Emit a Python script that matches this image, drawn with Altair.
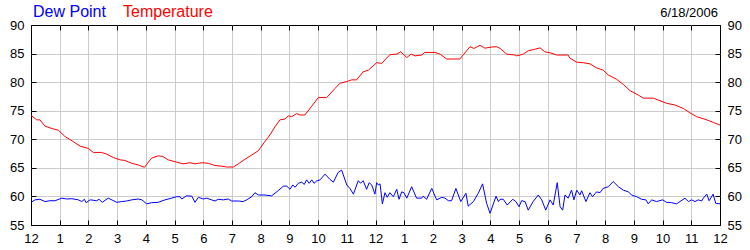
import altair as alt
import pandas as pd

# ---------------- data ----------------
temp_hours = [0.00, 0.20, 0.31, 0.49, 0.72, 0.95, 1.18, 1.47, 1.71, 2.00, 2.17, 2.46, 2.64, 2.87,
              3.10, 3.27, 3.51, 3.74, 3.95, 4.20, 4.43, 4.59, 4.78, 5.07, 5.30, 5.54, 5.71, 5.95,
              6.18, 6.41, 6.64, 6.82, 7.05, 7.22, 7.45, 7.69, 7.92, 8.06, 8.32, 8.50, 8.67, 8.85,
              8.96, 9.08, 9.25, 9.37, 9.54, 9.78, 10.01, 10.30, 10.59, 10.76, 11.00, 11.17, 11.34,
              11.57, 11.75, 12.04, 12.22, 12.50, 12.74, 12.88, 13.09, 13.24, 13.38, 13.61, 13.72,
              14.07, 14.25, 14.48, 14.94, 15.29, 15.43, 15.64, 15.81, 16.05, 16.22, 16.34, 16.57,
              16.86, 16.92, 17.15, 17.32, 17.55, 17.73, 17.90, 18.08, 18.31, 18.71, 18.77, 19.01,
              19.24, 19.47, 19.70, 19.93, 20.11, 20.40, 20.63, 20.87, 21.15, 21.33, 21.68, 21.91,
              22.14, 22.43, 22.72, 22.95, 23.19, 23.54, 23.77, 24.00]
temp_values = [74.2, 73.4, 73.4, 72.3, 71.9, 71.6, 70.5, 69.6, 68.8, 68.4, 67.7, 67.7, 67.4, 66.8,
               66.4, 66.3, 65.8, 65.5, 65.1, 66.7, 67.1, 67.0, 66.4, 66.0, 65.7, 65.9, 65.7, 65.9,
               65.8, 65.4, 65.3, 65.15, 65.15, 65.7, 66.5, 67.25, 68.0, 69.0, 70.75, 72.2, 73.4, 73.55,
               74.1, 73.95, 74.5, 74.25, 74.25, 75.8, 77.3, 77.3, 78.9, 79.8, 80.1, 80.4, 80.4,
               81.8, 82.1, 83.4, 83.3, 84.8, 84.9, 85.3, 84.3, 84.9, 84.6, 84.75, 85.2,
               85.2, 84.9, 84.05, 84.05, 86.2, 85.9, 86.45, 85.95, 86.15, 86.2, 85.9, 84.9,
               84.75, 84.6, 84.9, 85.5, 85.75, 86.0, 85.3, 85.15, 84.75, 84.75, 84.2, 83.5,
               83.4, 83.2, 82.5, 82.1, 81.25, 80.5, 79.6, 78.5, 77.75, 77.2, 77.2, 76.75,
               76.3, 76.0, 75.4, 74.65, 73.95, 73.4, 72.95, 72.5]

dew_hours = [0.00, 0.14, 0.31, 0.49, 0.66, 0.84, 1.07, 1.24, 1.42, 1.65, 1.77, 1.86, 1.92, 2.06,
             2.29, 2.37, 2.48, 2.69, 2.99, 3.16, 3.33, 3.51, 3.74, 3.86, 4.03, 4.20, 4.43, 4.67,
             4.90, 5.07, 5.19, 5.25, 5.42, 5.60, 5.71, 5.83, 6.00, 6.12, 6.29, 6.41, 6.52, 6.70,
             6.87, 6.99, 7.22, 7.39, 7.51, 7.69, 7.80, 7.92, 8.15, 8.38, 8.61, 8.79, 8.91, 9.02,
             9.12, 9.20, 9.31, 9.43, 9.52, 9.60, 9.69, 9.78, 9.86, 9.95, 10.07, 10.24, 10.41,
             10.53, 10.70, 10.82, 10.88, 11.00, 11.11, 11.23, 11.40, 11.48, 11.57, 11.69, 11.78,
             11.87, 11.98, 12.04, 12.10, 12.16, 12.24, 12.33, 12.41, 12.50, 12.62, 12.74, 12.82,
             12.91, 12.99, 13.09, 13.26, 13.43, 13.61, 13.66, 13.78, 13.96, 14.13, 14.31, 14.42,
             14.54, 14.65, 14.80, 14.97, 15.15, 15.23, 15.41, 15.58, 15.73, 15.87, 15.99, 16.20,
             16.28, 16.34, 16.45, 16.59, 16.78, 16.89, 17.00, 17.09, 17.21, 17.32, 17.49, 17.67,
             17.79, 17.93, 18.08, 18.19, 18.33, 18.43, 18.52, 18.60, 18.71, 18.83, 18.91, 19.01,
             19.12, 19.18, 19.33, 19.47, 19.56, 19.70, 19.82, 19.93, 20.11, 20.28, 20.46, 20.63,
             20.81, 20.92, 21.10, 21.27, 21.42, 21.50, 21.62, 21.79, 22.00, 22.14, 22.32, 22.49,
             22.78, 22.90, 23.01, 23.13, 23.24, 23.36, 23.42, 23.54, 23.62, 23.76, 23.85, 24.00]
dew_values = [58.97, 59.4, 59.5, 59.1, 59.25, 59.25, 59.7, 59.55, 59.6, 59.4, 59.1, 59.5, 58.9, 59.4,
              59.25, 59.5, 58.97, 59.7, 58.97, 59.1, 59.2, 59.4, 59.55, 59.4, 58.7, 58.9, 58.97, 59.4,
              59.7, 59.95, 59.95, 59.55, 60.1, 60.05, 58.97, 59.85, 59.55, 59.7, 59.4, 59.2, 59.5, 59.4,
              59.55, 59.2, 59.2, 59.1, 59.4, 59.95, 60.65, 60.25, 60.25, 60.1, 61.0, 61.8, 61.8, 61.25,
              62.0, 61.6, 62.3, 62.5, 62.1, 62.9, 62.3, 62.9, 62.3, 62.7, 62.9, 63.9, 63.0,
              62.5, 64.2, 64.6, 63.75, 62.0, 61.4, 60.4, 62.75, 62.3, 62.75, 61.25, 62.4,
              62.0, 60.4, 62.4, 62.0, 62.2, 58.7, 60.65, 59.85, 60.65, 59.95, 61.25, 59.5,
              60.8, 60.65, 59.7, 61.7, 59.7, 59.7, 60.05, 59.5, 61.4, 59.4, 59.85, 59.7,
              59.25, 59.25, 61.4, 59.1, 60.55, 58.3, 59.1, 60.55, 62.2, 58.8, 57.05, 60.05,
              59.1, 59.5, 59.5, 58.5, 59.5, 59.1, 58.2, 59.25, 59.1, 57.6, 59.1, 60.25,
              59.4, 57.6, 59.4, 58.5, 62.4, 58.2, 57.6, 60.25, 59.7, 61.1, 59.4, 61.1,
              60.25, 61.0, 59.1, 60.65, 59.95, 60.8, 60.65, 61.4, 61.7, 62.6, 61.7, 61.1,
              60.8, 60.25, 59.95, 59.5, 59.4, 58.7, 59.4, 59.1, 59.4, 58.97, 58.9, 58.7,
              59.7, 59.1, 59.4, 59.1, 59.4, 59.2, 59.7, 60.4, 59.25, 60.4, 58.8, 58.7]

y_ticks = [55, 60, 65, 70, 75, 80, 85, 90]
y_grid = [60, 65, 70, 75, 80, 85]
x_ticks = list(range(0, 25))
x_grid = list(range(1, 24))
series_labels = ["Dew Point", "Temperature"]
series_colors = ["#0000ff", "#ff0000"]
date_label = "6/18/2006"

FONT = "Liberation Sans"
GRID = "#cccccc"

temp_df = pd.DataFrame({"hour": temp_hours, "value": temp_values})
dew_df = pd.DataFrame({"hour": dew_hours, "value": dew_values})

xscale = alt.Scale(domain=[0, 24], nice=False, zero=False)
yscale = alt.Scale(domain=[55, 90], nice=False, zero=False)
hour_expr = "datum.value % 12 == 0 ? '12' : '' + (datum.value % 12)"


def label_axis(orient, values, **kw):
    return alt.Axis(orient=orient, values=values, ticks=False, tickSize=0, domain=False,
                    grid=False, title=None, labelFont=FONT, labelFontSize=13,
                    labelColor="#000000", labelPadding=7, labelFlush=False,
                    labelOverlap=False, **kw)


def tick_axis(orient, values):
    return alt.Axis(orient=orient, values=values, labels=False, domain=False, grid=False,
                    ticks=True, tickSize=5, tickColor="#000000", tickWidth=1, offset=-5,
                    title=None, zindex=1)


def grid_axis(orient, values):
    return alt.Axis(orient=orient, values=values, labels=False, domain=False, ticks=False,
                    tickSize=0, grid=True, gridColor=GRID, gridWidth=1, title=None)


grid_layer = alt.Chart(temp_df).mark_line(strokeOpacity=0).encode(
    x=alt.X("hour:Q", scale=xscale, axis=grid_axis("top", x_grid)),
    y=alt.Y("value:Q", scale=yscale, axis=grid_axis("left", y_grid)),
)

ticks_a = alt.Chart(temp_df).mark_line(strokeOpacity=0).encode(
    x=alt.X("hour:Q", scale=xscale, axis=tick_axis("bottom", x_ticks)),
    y=alt.Y("value:Q", scale=yscale, axis=tick_axis("left", y_ticks)),
)

ticks_b = alt.Chart(temp_df).mark_line(strokeOpacity=0).encode(
    x=alt.X("hour:Q", scale=xscale, axis=tick_axis("top", x_ticks)),
    y=alt.Y("value:Q", scale=yscale, axis=tick_axis("right", y_ticks)),
)

temp_line = alt.Chart(temp_df).mark_line(color=series_colors[1], strokeWidth=1).encode(
    x=alt.X("hour:Q", scale=xscale, axis=label_axis("bottom", x_ticks, labelExpr=hour_expr)),
    y=alt.Y("value:Q", scale=yscale, axis=label_axis("left", y_ticks)),
)

dew_line = alt.Chart(dew_df).mark_line(color=series_colors[0], strokeWidth=1).encode(
    x=alt.X("hour:Q", scale=xscale, axis=None),
    y=alt.Y("value:Q", scale=yscale, axis=label_axis("right", y_ticks)),
)

dew_text = alt.Chart(pd.DataFrame({"label": [series_labels[0]]})).mark_text(
    font=FONT, fontSize=16, color=series_colors[0], align="left", baseline="alphabetic"
).encode(text="label:N", x=alt.value(2), y=alt.value(-8))

temp_text = alt.Chart(pd.DataFrame({"label": [series_labels[1]]})).mark_text(
    font=FONT, fontSize=16, color=series_colors[1], align="left", baseline="alphabetic"
).encode(text="label:N", x=alt.value(92), y=alt.value(-8))

date_text = alt.Chart(pd.DataFrame({"label": [date_label]})).mark_text(
    font=FONT, fontSize=13, color="#000000", align="right", baseline="alphabetic"
).encode(text="label:N", x=alt.value(687), y=alt.value(-8.5))

chart = alt.layer(
    grid_layer, ticks_a, ticks_b, temp_line, dew_line, dew_text, temp_text, date_text
).resolve_axis(x="independent", y="independent").properties(
    width=689, height=200,
    autosize=alt.AutoSizeParams(type="none"),
    padding={"left": 31, "top": 25, "right": 30, "bottom": 25},
    background="#ffffff",
).configure_view(stroke="#000000", strokeWidth=1)

chart.save("out.html", embed_options={"renderer": "svg", "actions": False})
